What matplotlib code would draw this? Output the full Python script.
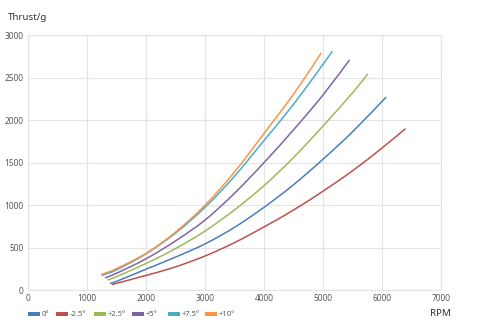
import matplotlib
matplotlib.use("Agg")
import matplotlib.pyplot as plt
from matplotlib.patches import Rectangle, PathPatch
from matplotlib.path import Path

plt.rcParams['font.family'] = ['Noto Sans', 'DejaVu Sans']

# propeller pitch series: rpm / thrust (g) readings
labels = ['0°', '-2.5°', '+2.5°', '+5°', '+7.5°', '+10°']
colors = ['#4a7ebb', '#c0504d', '#9bbb59', '#8064a2', '#4bacc6', '#f79646']

rpm_0 = [1390, 1500, 2000, 2500, 3000, 3500, 4000, 4500, 5000, 5500, 6070]
thr_0 = [82, 105, 248, 390, 545, 740, 975, 1240, 1540, 1862, 2270]

rpm_m25 = [1430, 1500, 2000, 2500, 3000, 3500, 4000, 4500, 5000, 5500, 6000, 6400]
thr_m25 = [70, 82, 175, 275, 403, 560, 745, 943, 1165, 1404, 1672, 1900]

rpm_p25 = [1345, 1500, 2000, 2500, 3000, 3500, 4000, 4500, 5000, 5500, 5760]
thr_p25 = [121, 160, 315, 490, 696, 945, 1230, 1560, 1930, 2320, 2543]

rpm_p5 = [1305, 1500, 2000, 2500, 3000, 3500, 4000, 4500, 5000, 5450]
thr_p5 = [146, 200, 370, 580, 825, 1140, 1500, 1885, 2295, 2707]

rpm_p75 = [1250, 1500, 2000, 2500, 3000, 3500, 4000, 4500, 5000, 5160]
thr_p75 = [175, 240, 428, 672, 975, 1340, 1760, 2185, 2655, 2810]

rpm_p10 = [1240, 1500, 2000, 2500, 3000, 3500, 4000, 4500, 4970]
thr_p10 = [185, 255, 434, 684, 1000, 1389, 1843, 2303, 2789]

series = [(rpm_0, thr_0), (rpm_m25, thr_m25), (rpm_p25, thr_p25),
          (rpm_p5, thr_p5), (rpm_p75, thr_p75), (rpm_p10, thr_p10)]


def smooth_path(xs, ys):
    """Catmull-Rom style bezier through the points (like a spreadsheet smoothed line)."""
    pts = list(zip(xs, ys))
    verts = [pts[0]]
    codes = [Path.MOVETO]
    n = len(pts)
    for i in range(n - 1):
        p0 = pts[i - 1] if i > 0 else pts[i]
        p1 = pts[i]
        p2 = pts[i + 1]
        p3 = pts[i + 2] if i + 2 < n else pts[i + 1]
        c1 = (p1[0] + (p2[0] - p0[0]) / 6, p1[1] + (p2[1] - p0[1]) / 6)
        c2 = (p2[0] - (p3[0] - p1[0]) / 6, p2[1] - (p3[1] - p1[1]) / 6)
        verts += [c1, c2, p2]
        codes += [Path.CURVE4] * 3
    return Path(verts, codes)


fig = plt.figure(figsize=(4.8, 3.3), dpi=100)
ax = fig.add_axes([0.0583, 0.1203, 0.8604, 0.7736])

for (x, y), c in zip(series, colors):
    ax.add_patch(PathPatch(smooth_path(x, y), fill=False, edgecolor=c,
                           lw=1.1, capstyle='butt'))

ax.set_xlim(0, 7000)
ax.set_ylim(0, 3000)
ax.set_xticks(range(0, 7001, 1000))
ax.set_yticks(range(0, 3001, 500))
ax.grid(True, color='#e4e4e4', lw=0.8)
ax.set_axisbelow(True)
for s in ax.spines.values():
    s.set_color('#e4e4e4')
    s.set_linewidth(0.8)
ax.tick_params(length=0, labelsize=6, labelcolor='#595959', pad=3)

fig.text(8 / 480, 1 - 18 / 330, 'Thrust/g', fontsize=7, color='#333333',
         ha='left', va='center')
fig.text(440 / 480, 1 - 314 / 330, 'RPM', fontsize=7, color='#333333',
         ha='center', va='center')

# legend row under the plot
sw_x = [28, 55.7, 94, 132, 168, 205]
y_leg = 1 - 314 / 330
for lx, lab, c in zip(sw_x, labels, colors):
    fig.patches.append(Rectangle((lx / 480, y_leg - 2 / 330), 12 / 480, 4 / 330,
                                 transform=fig.transFigure, color=c, lw=0))
    fig.text((lx + 13.5) / 480, y_leg, lab, fontsize=5.5, color='#595959',
             ha='left', va='center')

fig.savefig('out.png', dpi=100)
